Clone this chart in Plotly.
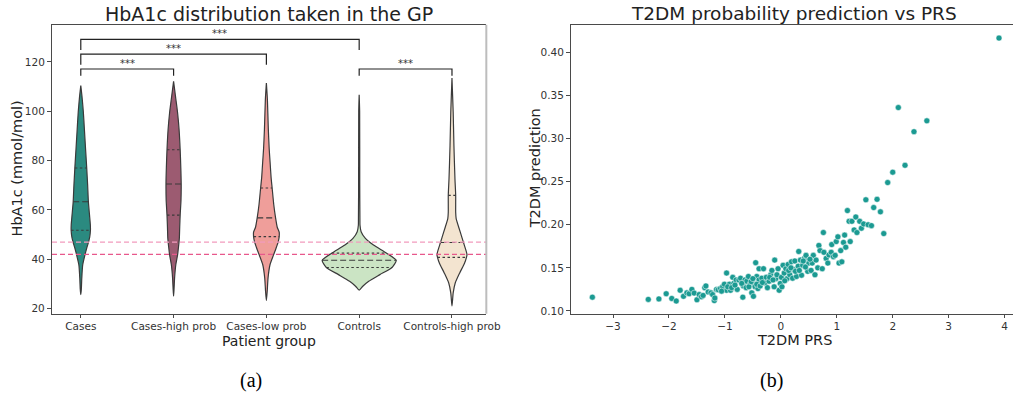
import numpy as np
import plotly.graph_objects as go

# ---------------- Data: left panel (violins) ----------------
groups = ["Cases", "Cases-high prob", "Cases-low prob", "Controls", "Controls-high prob"]
fill_colors = ["#2b8a80", "#9c5b71", "#ef9e9a", "#cbe4c4", "#f3e4d0"]

# density profiles: HbA1c value -> half-width (category units)
cases_vals = [25.7, 28, 32.5, 37.8, 41.8, 44.5, 47.2, 49, 51.8, 54, 58, 63.3, 70, 77, 85, 92, 100, 106, 110.4]
cases_hw = [0, 0.006, 0.011, 0.021, 0.045, 0.064, 0.085, 0.096, 0.104, 0.103, 0.094, 0.082, 0.074, 0.064, 0.051, 0.040, 0.027, 0.013, 0]

caseshi_vals = [25.1, 28, 32.5, 37.8, 41.8, 45, 48.5, 53, 57.9, 64, 70.5, 77, 84.4, 92.7, 99.4, 105.9, 112.1]
caseshi_hw = [0, 0.005, 0.011, 0.024, 0.043, 0.053, 0.062, 0.066, 0.071, 0.080, 0.082, 0.078, 0.071, 0.059, 0.043, 0.021, 0]

caseslo_vals = [23.3, 27.1, 32.5, 37.8, 41.8, 44.5, 47.2, 49.2, 51, 53, 56.8, 62, 68.9, 73, 79.3, 85, 92.7, 104.7, 111.4]
caseslo_hw = [0, 0.009, 0.018, 0.039, 0.077, 0.104, 0.128, 0.138, 0.138, 0.117, 0.099, 0.080, 0.062, 0.051, 0.040, 0.030, 0.021, 0.011, 0]

controls_vals = [27.5, 29.1, 31.1, 33.8, 36.7, 39.6, 42.5, 45.8, 48.5, 51.2, 53.8, 56, 70, 100, 106.7]
controls_hw = [0, 0.039, 0.103, 0.223, 0.354, 0.399, 0.296, 0.154, 0.067, 0.021, 0.009, 0.008, 0.006, 0.005, 0]

controlshi_vals = [21.1, 26.4, 30.4, 34.4, 38.4, 40.8, 42, 46.8, 49, 52.5, 56.5, 59.1, 65.9, 72.6, 86, 99.5, 113.4]
controlshi_hw = [0, 0.013, 0.035, 0.082, 0.135, 0.156, 0.162, 0.124, 0.106, 0.077, 0.045, 0.040, 0.040, 0.032, 0.021, 0.013, 0]

profiles_vals = [cases_vals, caseshi_vals, caseslo_vals, controls_vals, controlshi_vals]
profiles_hw = [cases_hw, caseshi_hw, caseslo_hw, controls_hw, controlshi_hw]

# quartiles [Q1, median, Q3]
quartiles = [
    [51.8, 63.3, 77.0],
    [57.9, 70.5, 84.4],
    [49.2, 56.8, 68.9],
    [36.7, 39.6, 42.5],
    [40.8, 46.8, 65.9],
]

threshold_values = [47, 42]
threshold_colors = ["#f29bbd", "#e8588c"]

# significance brackets: (group a, group b, bar height, tick bottom)
bracket_a = [0, 0, 0, 3]
bracket_b = [1, 2, 3, 4]
bracket_y = [117.1, 123.1, 129.1, 117.1]
bracket_bottom = [114.4, 118.8, 124.8, 114.4]
bracket_label = ["***", "***", "***", "***"]

# ---------------- Data: right panel (scatter) ----------------
prs = [-3.37,
       -2.37, -2.18, -2.05, -1.95, -1.87, -1.80, -1.74, -1.68, -1.64, -1.59, -1.55, -1.50, -1.46, -1.42, -1.39,
       -1.36, -1.34, -1.30, -1.25, -1.22, -1.19, -1.18, -1.15, -1.12, -1.08, -1.04, -1.01, -0.97, -0.97, -0.92,
       -0.90, -0.86, -0.84, -0.80, -0.78, -0.75, -0.72, -0.68, -0.67, -0.64, -0.61, -0.58, -0.55, -0.52, -0.49,
       -0.48, -0.45, -0.43, -0.39, -0.39,
       -1.06, -0.95, -0.88, -0.82, -0.70, -0.62, -0.57, -0.53, -0.46, -0.41,
       -0.50, -0.43, -0.37, -0.34, -0.31, -0.28, -0.26, -0.24, -0.21, -0.18, -0.16, -0.12, -0.11, -0.09, -0.07,
       -0.05, -0.03, -0.01, 0.01, 0.04, 0.06, 0.09, 0.11, 0.13, 0.16, 0.19, 0.21, 0.23, 0.25, 0.28, 0.31, 0.32,
       0.35, 0.37, 0.39, 0.42, 0.45, 0.48, 0.50, 0.54, 0.56, 0.58, 0.61, 0.63, 0.66, 0.68, 0.70, 0.74, 0.76,
       0.77, 0.81, 0.84, 0.86, 0.90, 0.91, 0.94, 0.97, 0.99, 1.02, 1.04, 1.07, 1.09, 1.12, 1.14, 1.16, 1.19,
       1.22, 1.24, 1.27, 1.31, 1.34, 1.36, 1.41, 1.44, 1.48, 1.52, 1.56, 1.62, 1.66, 1.72, 1.78, 1.84, 1.91,
       2.00, 2.22, 2.38, 2.10, 2.61, 3.90,
       -0.33, -0.20, -0.14, 0.02, 0.07, 0.14, 0.18, 0.26, 0.33, 0.40, 0.44, 0.52]
pred = [0.116,
        0.1134, 0.114, 0.120, 0.1145, 0.1115, 0.124, 0.117, 0.121, 0.120, 0.125, 0.1207, 0.113, 0.119, 0.1165, 0.118,
        0.127, 0.129, 0.122, 0.121, 0.119, 0.112, 0.115, 0.125, 0.1245, 0.126, 0.128, 0.131, 0.144, 0.124, 0.131,
        0.124, 0.139, 0.132, 0.136, 0.125, 0.136, 0.138, 0.116, 0.129, 0.136, 0.1345, 0.140, 0.131, 0.121, 0.117,
        0.131, 0.156, 0.140, 0.149, 0.136,
        0.123, 0.128, 0.127, 0.130, 0.132, 0.127, 0.128, 0.134, 0.128, 0.126,
        0.1375, 0.131, 0.129, 0.138, 0.149, 0.1325, 0.139, 0.127, 0.1345, 0.142, 0.147, 0.128, 0.159, 0.1375, 0.142,
        0.149, 0.124, 0.132, 0.139, 0.153, 0.144, 0.149, 0.1375, 0.154, 0.142, 0.157, 0.138, 0.148, 0.158, 0.140, 0.152, 0.169,
        0.159, 0.1415, 0.153, 0.161, 0.1645, 0.146, 0.1555, 0.147, 0.1555, 0.1645, 0.142, 0.159, 0.150, 0.176, 0.170, 0.149, 0.191,
        0.168, 0.161, 0.1555, 0.165, 0.168, 0.177, 0.163, 0.1645, 0.1805, 0.186, 0.1555, 0.170, 0.157, 0.1795, 0.188, 0.174, 0.2165,
        0.204, 0.1805, 0.204, 0.194, 0.209, 0.191, 0.204, 0.196, 0.201, 0.229, 0.200, 0.199, 0.220, 0.2295, 0.215, 0.1898, 0.249,
        0.261, 0.269, 0.308, 0.336, 0.3206, 0.4166,
        0.133, 0.139, 0.136, 0.128, 0.135, 0.147, 0.150, 0.146, 0.147, 0.158, 0.151, 0.160]

# ---------------- Figure ----------------
FONT = "DejaVu Sans"
AXIS_COLOR = "#4a4a4a"
TEXT_COLOR = "#333333"
OUTLINE = "#3a3a3a"

fig = go.Figure()

# violins as filled outlines
for i, (vals, hw) in enumerate(zip(profiles_vals, profiles_hw)):
    v = np.array(vals)
    w = np.array(hw)
    xs = np.concatenate([i + w, (i - w)[::-1]])
    ys = np.concatenate([v, v[::-1]])
    fig.add_trace(go.Scatter(x=xs, y=ys, mode="lines", fill="toself", fillcolor=fill_colors[i],
                             line=dict(color=OUTLINE, width=1.2, shape="spline", smoothing=0.6),
                             xaxis="x", yaxis="y", showlegend=False, hoverinfo="skip"))
    # quartile lines
    for k, q in enumerate(quartiles[i]):
        half = float(np.interp(q, v, w))
        fig.add_trace(go.Scatter(x=[i - half, i + half], y=[q, q], mode="lines",
                                 line=dict(color=OUTLINE, width=1.1,
                                           dash="6px,3px" if k == 1 else "2.5px,2.5px"),
                                 xaxis="x", yaxis="y", showlegend=False, hoverinfo="skip"))

# significance brackets
for a, b, yb, bot, lab in zip(bracket_a, bracket_b, bracket_y, bracket_bottom, bracket_label):
    fig.add_trace(go.Scatter(x=[a, a, b, b], y=[bot, yb, yb, bot], mode="lines",
                             line=dict(color="#222222", width=1.2),
                             xaxis="x", yaxis="y", showlegend=False, hoverinfo="skip"))
    fig.add_annotation(x=(a + b) / 2, y=yb, xref="x", yref="y", text=lab, showarrow=False,
                       yanchor="bottom", yshift=-2, font=dict(family=FONT, size=10, color=TEXT_COLOR))

# threshold lines
for tv, tc in zip(threshold_values, threshold_colors):
    fig.add_shape(type="line", xref="x domain", yref="y", x0=0, x1=1, y0=tv, y1=tv,
                  line=dict(color=tc, width=1.2, dash="5px,3px"))

# right panel scatter
fig.add_trace(go.Scatter(x=prs, y=pred, mode="markers", xaxis="x2", yaxis="y2",
                         marker=dict(color="#1b9a92", size=6, line=dict(color="white", width=0.5)),
                         showlegend=False))

tickfont = dict(family=FONT, size=10.5, color=TEXT_COLOR)
common_axis = dict(showgrid=False, zeroline=False, showline=True, linecolor=AXIS_COLOR, linewidth=1.2,
                   ticks="outside", ticklen=4, tickwidth=1, tickcolor=AXIS_COLOR, tickfont=tickfont)
xaxis_style = dict(common_axis, ticklen=3)

fig.update_layout(
    width=1028, height=400,
    margin=dict(l=0, r=0, t=0, b=0),
    paper_bgcolor="white", plot_bgcolor="white",
    font=dict(family=FONT, color=TEXT_COLOR),
    xaxis=dict(domain=[0.0513, 0.4796], range=[-0.31, 4.37], tickvals=list(range(len(groups))),
               ticktext=groups, mirror=True, anchor="y", **xaxis_style),
    yaxis=dict(domain=[0.21, 0.9375], range=[18, 135], tickvals=[20, 40, 60, 80, 100, 120],
               anchor="x", **common_axis),
    xaxis2=dict(domain=[0.5632, 0.999], range=[-3.75, 4.15], tickvals=[-3, -2, -1, 0, 1, 2, 3, 4],
                mirror=True, anchor="y2", **xaxis_style),
    yaxis2=dict(domain=[0.21, 0.9375], range=[0.0969, 0.432], tickvals=[0.10, 0.15, 0.20, 0.25, 0.30, 0.35, 0.40],
                tickformat=".2f", anchor="x2", **common_axis),
)

# right spine of left panel (light grey)
fig.add_shape(type="line", xref="x domain", yref="y domain", x0=1, x1=1, y0=0, y1=1,
              line=dict(color="#bdbdbd", width=2))

# titles and axis labels
W, H = 1028, 400
def ann(text, px, py, size, angle=0, family=FONT, color="#222222", yanchor="middle"):
    fig.add_annotation(x=px / W, y=1 - py / H, xref="paper", yref="paper", text=text, showarrow=False,
                       xanchor="center", yanchor=yanchor, textangle=angle,
                       font=dict(family=family, size=size, color=color))

ann("HbA1c distribution taken in the GP", 273, 14, 19)
ann("T2DM probability prediction vs PRS", 805, 14, 18.5)
ann("Patient group", 273, 333, 14, yanchor="top")
ann("T2DM PRS", 805, 332, 14.5, yanchor="top")
ann("HbA1c (mmol/mol)", 17, 170, 14.5, angle=-90)
ann("T2DM prediction", 542, 170, 14.5, angle=-90)
ann("(a)", 254, 383, 20, family="Liberation Serif", color="black")
ann("(b)", 782, 383, 20, family="Liberation Serif", color="black")

post = ("document.documentElement.style.margin='0';document.documentElement.style.overflow='hidden';"
        "document.body.style.margin='0';document.body.style.padding='0';document.body.style.overflow='hidden';")
fig.write_html("out.html", post_script=post,
               config={"displayModeBar": False, "responsive": False})
